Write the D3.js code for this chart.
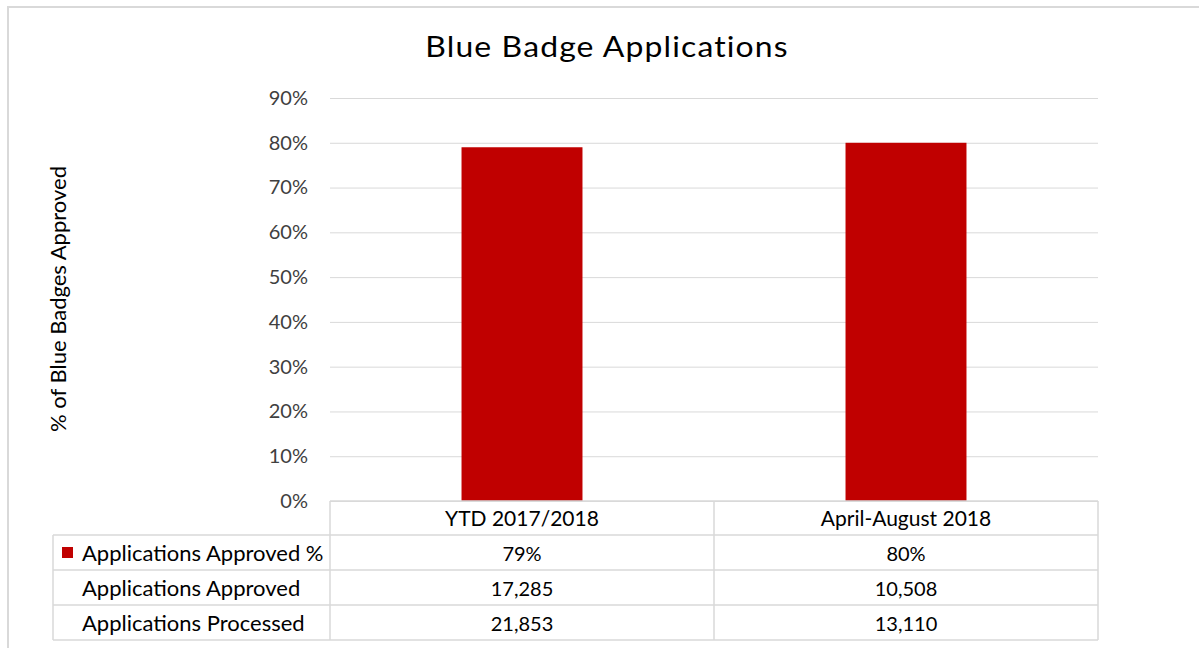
<!DOCTYPE html>
<html>
<head>
<meta charset="utf-8">
<script src="https://cdn.jsdelivr.net/npm/d3@7"></script>
<style>
  html, body { margin: 0; padding: 0; background: #fff; }
  svg { display: block; }
  text { font-family: Lato, "Open Sans", sans-serif; }
</style>
</head>
<body>
<svg id="chart" width="1199" height="648"></svg>
<script>
// Blue Badge applications data
const categories = ["YTD 2017/2018", "April-August 2018"];
const approvedPct = [79, 80];
const approvedCount = ["17,285", "10,508"];
const processedCount = ["21,853", "13,110"];
const yTicks = [0, 10, 20, 30, 40, 50, 60, 70, 80, 90];
const rowLabels = ["Applications Approved %", "Applications Approved", "Applications Processed"];

const barColor = "#c00000";
const gridColor = "#d9d9d9";
const textColor = "#404040";

const svg = d3.select("#chart");

// Outer chart frame
svg.append("rect")
  .attr("x", 8).attr("y", 7)
  .attr("width", 1200).attr("height", 660)
  .attr("fill", "#fff")
  .attr("stroke", "#d9d9d9").attr("stroke-width", 2);

const plot = { left: 330, right: 1098, top: 98, bottom: 501 };

const x = d3.scaleBand()
  .domain(categories)
  .range([plot.left, plot.right])
  .paddingInner(0.685)
  .paddingOuter(0.3425);

const y = d3.scaleLinear()
  .domain([0, 90])
  .range([plot.bottom, plot.top]);

// Title (slightly widened lettering)
svg.append("text")
  .attr("transform", "translate(607,57) scale(1.14,1)")
  .attr("text-anchor", "middle")
  .attr("font-size", 28)
  .attr("letter-spacing", 1)
  .attr("fill", "#000")
  .text("Blue Badge Applications");

// Y-axis title
svg.append("text")
  .attr("transform", "translate(66,299) rotate(-90)")
  .attr("text-anchor", "middle")
  .attr("font-size", 22)
  .attr("fill", "#000")
  .text("% of Blue Badges Approved");

// Gridlines and tick labels
const yAxis = d3.axisLeft(y)
  .tickValues(yTicks)
  .tickSize(-(plot.right - plot.left))
  .tickPadding(22)
  .tickFormat(d => d + "%");

const gy = svg.append("g")
  .attr("transform", `translate(${plot.left},0)`)
  .call(yAxis);
gy.select(".domain").remove();
gy.selectAll(".tick line").attr("stroke", gridColor).attr("stroke-width", 1);
gy.selectAll(".tick text")
  .attr("font-size", 20)
  .attr("fill", textColor)
  .attr("font-family", "Lato, sans-serif");

// Bars
svg.append("g")
  .selectAll("rect")
  .data(categories)
  .join("rect")
  .attr("x", d => x(d))
  .attr("width", x.bandwidth())
  .attr("y", (d, i) => y(approvedPct[i]))
  .attr("height", (d, i) => y(0) - y(approvedPct[i]))
  .attr("fill", barColor);

// Data table beneath the plot
const rowH = 35;
const tableLeft = 53;
const headerTop = plot.bottom;
const rowsTop = headerTop + 34;
const tableBottom = rowsTop + rowH * 3;
const step = x.step();

const table = svg.append("g").attr("stroke", gridColor).attr("stroke-width", 1.5).attr("fill", "none");

// horizontal rules
table.append("line").attr("x1", plot.left).attr("x2", plot.right).attr("y1", headerTop).attr("y2", headerTop);
[0, 1, 2, 3].forEach(i => {
  const yy = rowsTop + i * rowH;
  table.append("line").attr("x1", tableLeft).attr("x2", plot.right).attr("y1", yy).attr("y2", yy);
});
// vertical rules
table.append("line").attr("x1", tableLeft).attr("x2", tableLeft).attr("y1", rowsTop).attr("y2", tableBottom);
[plot.left, plot.left + step, plot.right].forEach(xx => {
  table.append("line").attr("x1", xx).attr("x2", xx).attr("y1", headerTop).attr("y2", tableBottom);
});

const center = c => x(c) + x.bandwidth() / 2;

// Category header
svg.append("g").selectAll("text")
  .data(categories)
  .join("text")
  .attr("x", d => center(d))
  .attr("y", headerTop + 25)
  .attr("text-anchor", "middle")
  .attr("font-size", 21)
  .attr("fill", "#000")
  .text(d => d);

// Row labels
svg.append("g").selectAll("text")
  .data(rowLabels)
  .join("text")
  .attr("x", 82)
  .attr("y", (d, i) => rowsTop + i * rowH + 26)
  .attr("font-size", 22)
  .attr("fill", "#000")
  .text(d => d);

// Legend key
svg.append("rect")
  .attr("x", 62).attr("y", rowsTop + 12)
  .attr("width", 11).attr("height", 11)
  .attr("fill", barColor);

// Row values
const rows = [approvedPct.map(v => v + "%"), approvedCount, processedCount];
rows.forEach((vals, r) => {
  svg.append("g").selectAll("text")
    .data(vals)
    .join("text")
    .attr("x", (d, i) => center(categories[i]))
    .attr("y", rowsTop + r * rowH + 26)
    .attr("text-anchor", "middle")
    .attr("font-size", 20)
    .attr("fill", "#000")
    .text(d => d);
});
</script>
</body>
</html>
